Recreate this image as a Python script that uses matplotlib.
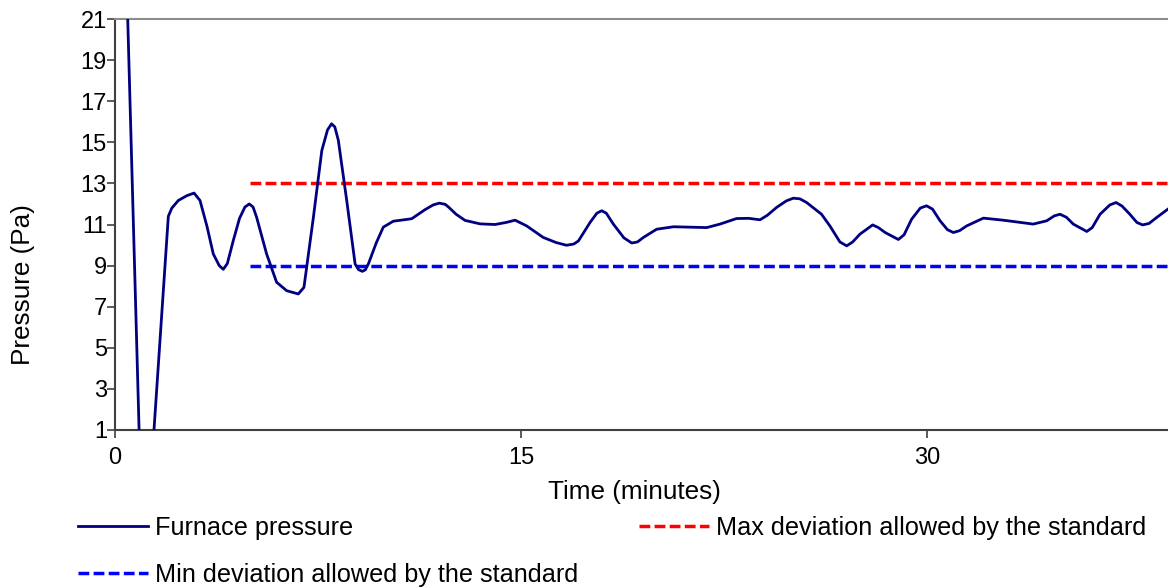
import numpy as np
import matplotlib
matplotlib.use('Agg')
import matplotlib.pyplot as plt

plt.rcParams['font.family'] = ['Liberation Sans', 'DejaVu Sans']

# furnace pressure (minutes, Pa)
time = [0.25, 0.47, 0.89, 1.05, 1.44, 1.97, 2.1, 2.34, 2.65, 2.92, 3.14, 3.4, 3.63, 3.85,
        4.0, 4.15, 4.37, 4.6, 4.8, 4.96, 5.1, 5.23, 5.6, 5.97, 6.34, 6.77, 6.98, 7.33,
        7.64, 7.85, 8.0, 8.12, 8.25, 8.56, 8.87, 9.0, 9.14, 9.25, 9.36, 9.65, 9.91,
        10.28, 10.96, 11.45, 11.75, 11.98, 12.2, 12.32, 12.6, 12.93, 13.49, 14.04,
        14.45, 14.78, 15.21, 15.82, 16.3, 16.68, 16.95, 17.12, 17.55, 17.8, 17.98,
        18.15, 18.41, 18.8, 19.09, 19.3, 19.52, 20.01, 20.63, 21.86, 22.35, 22.96,
        23.4, 23.83, 24.1, 24.44, 24.8, 25.06, 25.3, 25.55, 26.1, 26.41, 26.78, 27.03,
        27.25, 27.52, 27.99, 28.2, 28.45, 28.94, 29.15, 29.43, 29.75, 29.98, 30.2,
        30.48, 30.75, 30.97, 31.2, 31.46, 32.08, 32.81, 33.92, 34.42, 34.7, 34.91,
        35.15, 35.4, 35.9, 36.1, 36.39, 36.75, 36.98, 37.2, 37.49, 37.75, 37.96, 38.2,
        38.48, 38.9]
pressure = [31.0, 21.0, 1.0, -6.0, 1.0, 11.4, 11.8, 12.17, 12.4, 12.53, 12.17, 10.9, 9.57,
            9.0, 8.82, 9.1, 10.22, 11.3, 11.85, 12.0, 11.85, 11.36, 9.57, 8.19, 7.78,
            7.62, 7.94, 11.36, 14.6, 15.6, 15.9, 15.75, 15.1, 12.17, 9.08, 8.8, 8.72,
            8.8, 9.08, 10.1, 10.87, 11.16, 11.28, 11.72, 11.95, 12.04, 11.98, 11.85,
            11.5, 11.2, 11.03, 11.0, 11.1, 11.21, 10.93, 10.37, 10.12, 9.99, 10.05, 10.2,
            11.1, 11.55, 11.67, 11.55, 11.02, 10.35, 10.1, 10.15, 10.37, 10.77, 10.89,
            10.85, 11.02, 11.29, 11.3, 11.23, 11.45, 11.83, 12.15, 12.28, 12.25, 12.07,
            11.5, 10.93, 10.15, 9.96, 10.15, 10.53, 10.98, 10.85, 10.61, 10.27, 10.5,
            11.26, 11.8, 11.91, 11.75, 11.18, 10.75, 10.61, 10.7, 10.93, 11.31, 11.21,
            11.02, 11.18, 11.42, 11.5, 11.35, 11.02, 10.66, 10.85, 11.5, 11.95, 12.07,
            11.9, 11.5, 11.1, 10.98, 11.05, 11.34, 11.75]

# limits from the standard
limit_start = 5.0
limit_end = 38.9
max_dev = 13
min_dev = 9

fig = plt.figure(figsize=(11.68, 5.87), dpi=100)
ax = fig.add_axes([115/1168, 157/587, 1 - 115/1168, 411/587])

ln_p, = ax.plot(time, pressure, color='#000080', lw=2.0, solid_joinstyle='round',
                label='Furnace pressure', zorder=3)
ln_max, = ax.plot([limit_start, limit_end], [max_dev, max_dev], color='#FF0000', lw=2.5,
                  dashes=(3.1, 1.25), label='Max deviation allowed by the standard')
ln_min, = ax.plot([limit_start, limit_end], [min_dev, min_dev], color='#0000FF', lw=2.5,
                  dashes=(3.1, 1.25), label='Min deviation allowed by the standard')

ax.set_xlim(0, 38.9)
ax.set_ylim(1, 21)
ax.set_xticks([0, 15, 30])
ax.set_yticks(np.arange(1, 22, 2))
ax.tick_params(labelsize=17, length=5.5, width=1.2, color='#404040')
ax.tick_params(axis='y', pad=0.3)
ax.tick_params(axis='x', pad=7)

ax.spines['right'].set_visible(False)
ax.spines['top'].set_color('#8c8c8c')
ax.spines['top'].set_linewidth(1.5)
for s in ['left', 'bottom']:
    ax.spines[s].set_color('#404040')
    ax.spines[s].set_linewidth(1.5)

ax.set_xlabel('Time (minutes)', fontsize=18.8)
ax.set_ylabel('Pressure (Pa)', fontsize=18.8)
ax.xaxis.set_label_coords((634 - 115) / 1053, -(480 - 430) / 411)
ax.yaxis.set_label_coords(-(115 - 35) / 1053, (430 - 285) / 411)

fig.legend(handles=[ln_p, ln_min, ln_max], loc='upper left', ncol=2,
           bbox_to_anchor=(78/1168, 1 - 516/587), frameon=False, fontsize=18.2,
           borderpad=0, borderaxespad=0, handlelength=2.75, handletextpad=0.3,
           columnspacing=2.4, labelspacing=0.9)

fig.savefig('out.png', dpi=100)
